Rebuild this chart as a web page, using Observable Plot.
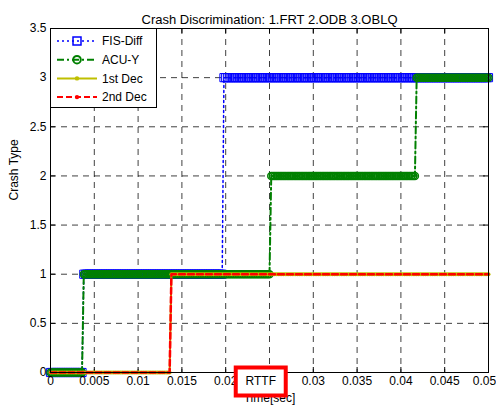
<!DOCTYPE html>
<html>
<head>
<meta charset="utf-8">
<script src="https://cdn.jsdelivr.net/npm/d3@7"></script>
<script src="https://cdn.jsdelivr.net/npm/@observablehq/plot@0.6"></script>
<style>
  html, body { margin: 0; padding: 0; background: #fff; }
  #wrap { position: relative; width: 496px; height: 405px; font-family: "Liberation Sans", Arial, sans-serif; }
  #legend { position: absolute; background: #fff; border: 1px solid #000; box-sizing: border-box; }
</style>
</head>
<body>
<div id="wrap"></div>
<script>
// ---------- data ----------
const titleText = "Crash Discrimination: 1.FRT 2.ODB 3.OBLQ";
const xLabelText = "Time[sec]";
const yLabelText = "Crash Type";
const seriesNames = ["FIS-Diff", "ACU-Y", "1st Dec", "2nd Dec"];

// simulation sample period and end time
const sampleDt = 0.0002;
const tEnd = 0.05;

// step changes of each signal: times [sec] and levels (crash type)
const fisStepTimes = [0, 0.0038, 0.0198];
const fisLevels = [0, 1, 3];
const acuStepTimes = [0, 0.0038, 0.0252, 0.0418];
const acuLevels = [0, 1, 2, 3];
const dec1StepTimes = [0, 0.0138];
const dec1Levels = [0, 1];
const dec2StepTimes = [0, 0.0138];
const dec2Levels = [0, 1];

const xTicks = [0, 0.005, 0.01, 0.015, 0.02, 0.025, 0.03, 0.035, 0.04, 0.045, 0.05];
// the 0.025 label is hidden under the RTTF box in the reference
const xTickLabels = ["0", "0.005", "0.01", "0.015", "0.02", "", "0.03", "0.035", "0.04", "0.045", "0.05"];
const yTicks = [0, 0.5, 1, 1.5, 2, 2.5, 3, 3.5];
const yTickLabels = ["0", "0.5", "1", "1.5", "2", "2.5", "3", "3.5"];

const annotations = [{t: 0.024, y: 0, text: "RTTF"}];

// ---------- sampled step signals ----------
const nSamples = Math.round(tEnd / sampleDt);
function sampled(stepTimes, levels) {
  const out = [];
  for (let k = 0; k <= nSamples; k++) {
    const t = k * sampleDt;
    let i = 0;
    while (i + 1 < stepTimes.length && stepTimes[i + 1] <= t + 1e-9) i++;
    out.push({t, v: levels[i]});
  }
  return out;
}
const fis = sampled(fisStepTimes, fisLevels);
const acu = sampled(acuStepTimes, acuLevels);
const dec1 = sampled(dec1StepTimes, dec1Levels);
const dec2 = sampled(dec2StepTimes, dec2Levels);

const C = {fis: "#0000ff", acu: "#008000", dec1: "#bfbf00", dec2: "#ff0000"};
const xLab = new Map(xTicks.map((d, i) => [d, xTickLabels[i]]));
const yLab = new Map(yTicks.map((d, i) => [d, yTickLabels[i]]));
const xLast = xTicks[xTicks.length - 1];

const W = 496, H = 405, mL = 50, mR = 8, mT = 28, mB = 33;
const pw = W - mL - mR, ph = H - mT - mB;

const boxSymbol = { draw(ctx) { ctx.rect(-25, -14, 50, 28); } };

const chart = Plot.plot({
  width: W, height: H,
  marginLeft: mL, marginRight: mR, marginTop: mT, marginBottom: mB,
  style: {fontFamily: '"Liberation Sans", Arial, sans-serif', fontSize: "12px", background: "#fff", overflow: "visible"},
  x: {domain: [0, 0.05]},
  y: {domain: [0, 3.5]},
  marks: [
    Plot.gridX(xTicks, {stroke: "#000", strokeOpacity: 0.75, strokeWidth: 1, strokeDasharray: "6,5"}),
    Plot.gridY(yTicks, {stroke: "#000", strokeOpacity: 0.75, strokeWidth: 1, strokeDasharray: "6,5"}),
    Plot.tickY(yTicks, {y: d => d, stroke: "#000", insetRight: pw - 5}),
    Plot.tickY(yTicks, {y: d => d, stroke: "#000", insetLeft: pw - 5}),
    Plot.tickX(xTicks, {x: d => d, stroke: "#000", insetTop: ph - 5}),
    Plot.tickX(xTicks, {x: d => d, stroke: "#000", insetBottom: ph - 5}),
    // FIS-Diff
    Plot.line(fis, {x: "t", y: "v", stroke: C.fis, strokeWidth: 1.5, strokeDasharray: "2,3"}),
    Plot.dot(fis, {x: "t", y: "v", symbol: "square", r: 4.6, stroke: C.fis, strokeWidth: 1, fill: "none"}),
    // ACU-Y
    Plot.line(acu, {x: "t", y: "v", stroke: C.acu, strokeWidth: 2, strokeDasharray: "7,3,2,3"}),
    Plot.dot(acu, {x: "t", y: "v", symbol: "circle", r: 3.5, stroke: C.acu, strokeWidth: 1.5, fill: "none"}),
    // 1st Dec
    Plot.line(dec1, {x: "t", y: "v", stroke: C.dec1, strokeWidth: 2}),
    Plot.dot(dec1, {x: "t", y: "v", r: 2, fill: C.dec1, stroke: "none"}),
    // 2nd Dec
    Plot.line(dec2, {x: "t", y: "v", stroke: C.dec2, strokeWidth: 2.5, strokeDasharray: "6,3"}),
    Plot.frame({stroke: "#000", strokeWidth: 1}),
    Plot.axisX(xTicks.filter(d => d !== xLast), {tickSize: 0, tickPadding: 4, tickFormat: d => xLab.get(d), fill: "#000", label: null}),
    Plot.axisX([xLast], {tickSize: 0, tickPadding: 4, tickFormat: d => xLab.get(d), fill: "#000", label: null, dx: -4}),
    Plot.axisY(yTicks, {tickSize: 0, tickPadding: 4, tickFormat: d => yLab.get(d), fill: "#000", label: null}),
    Plot.text([titleText], {frameAnchor: "top", text: d => d, dy: -14, fill: "#000", fontSize: 13}),
    Plot.text([yLabelText], {frameAnchor: "left", text: d => d, rotate: -90, dx: -36, fill: "#000", fontSize: 12}),
    Plot.text([xLabelText], {frameAnchor: "bottom", text: d => d, dy: 29, fill: "#000", fontSize: 12}),
    Plot.dot(annotations, {x: "t", y: "y", dy: 9, symbol: boxSymbol, r: 5, stroke: "#ff0000", strokeWidth: 4, fill: "#fff"}),
    Plot.text(annotations, {x: "t", y: "y", dy: 9, text: "text", fill: "#000", fontSize: 12})
  ]
});

const wrap = document.getElementById("wrap");
wrap.appendChild(chart);

// ---------- legend ----------
const legend = document.createElement("div");
legend.id = "legend";
const LW = 107, LH = 80;
legend.style.left = mL + "px";
legend.style.top = mT + "px";
legend.style.width = LW + "px";
legend.style.height = LH + "px";
wrap.appendChild(legend);
const lsvg = d3.select(legend).append("svg").attr("width", LW - 2).attr("height", LH - 2)
  .style("position", "absolute").style("left", "0px").style("top", "0px");
const legendStyles = [
  {color: C.fis, dash: "2,3", w: 1.5, marker: "square"},
  {color: C.acu, dash: "7,3,2,3", w: 2, marker: "circle"},
  {color: C.dec1, dash: null, w: 2, marker: "dot"},
  {color: C.dec2, dash: "6,3", w: 2, marker: "dot"}
];
seriesNames.forEach((name, i) => {
  const s = legendStyles[i];
  const cy = 12 + i * 18.7;
  lsvg.append("line").attr("x1", 6).attr("x2", 46).attr("y1", cy).attr("y2", cy)
    .attr("stroke", s.color).attr("stroke-width", s.w).attr("stroke-dasharray", s.dash);
  if (s.marker === "square") {
    lsvg.append("rect").attr("x", 22).attr("y", cy - 4).attr("width", 8).attr("height", 8)
      .attr("fill", "none").attr("stroke", s.color).attr("stroke-width", 1.5);
  } else if (s.marker === "circle") {
    lsvg.append("circle").attr("cx", 26).attr("cy", cy).attr("r", 3.8)
      .attr("fill", "none").attr("stroke", s.color).attr("stroke-width", 2);
  } else {
    lsvg.append("circle").attr("cx", 26).attr("cy", cy).attr("r", 2.2).attr("fill", s.color);
  }
  lsvg.append("text").attr("x", 51).attr("y", cy).attr("dy", "0.35em")
    .attr("font-size", 12).attr("font-family", '"Liberation Sans", Arial, sans-serif')
    .attr("fill", "#000").text(name);
});
</script>
</body>
</html>
